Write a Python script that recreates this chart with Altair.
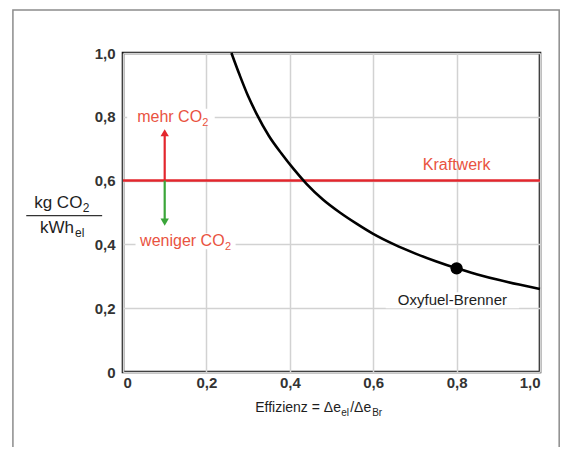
import altair as alt
import pandas as pd

# --- data ---
curve_x = [0.26, 0.28, 0.30, 0.32, 0.35, 0.38, 0.41, 0.44, 0.48, 0.52, 0.56, 0.60,
           0.65, 0.70, 0.75, 0.80, 0.85, 0.90, 0.95, 1.00]
curve_y = [1.00, 0.93, 0.865, 0.81, 0.74, 0.685, 0.635, 0.59, 0.54, 0.50, 0.465, 0.433,
           0.40, 0.372, 0.347, 0.325, 0.306, 0.289, 0.274, 0.26]
kraftwerk_level = 0.6
marker_x = [0.8]
marker_y = [0.325]
arrow_x = 0.10
arrow_up_tip = 0.765
arrow_down_tip = 0.455

x_ticks = [0, 0.2, 0.4, 0.6, 0.8, 1.0]
y_ticks = [0, 0.1, 0.2, 0.3, 0.4, 0.5, 0.6, 0.7, 0.8, 0.9, 1.0]

FONT = "Liberation Sans"
RED = "#e3262d"
RED_TEXT = "#e9533f"
GREEN = "#3aa539"
DARK = "#1e1e1e"

# white boxes that interrupt gridlines behind labels
box_x = [0.01, 0.03, 0.63]
box_x2 = [0.22, 0.27, 0.95]
box_y = [0.775, 0.385, 0.20]
box_y2 = [0.825, 0.435, 0.25]

xs = alt.Scale(domain=[0, 1], nice=False)
ys = alt.Scale(domain=[0, 1], nice=False)

curve_df = pd.DataFrame({"x": curve_x, "y": curve_y})

label_expr_x = "datum.value == 0 ? '0' : replace(format(datum.value, '.1f'), '.', ',')"
label_expr_y = ("round(datum.value*10) % 2 == 1 ? '' : "
                "(datum.value == 0 ? '0' : replace(format(datum.value, '.1f'), '.', ','))")


def txt(x, y, text, size, color, align="left", baseline="alphabetic", dx=0, dy=0):
    return alt.Chart(pd.DataFrame({"x": [x], "y": [y], "t": [text]})).mark_text(
        font=FONT, fontSize=size, align=align, baseline=baseline, color=color, dx=dx, dy=dy
    ).encode(x=alt.X("x:Q", scale=xs), y=alt.Y("y:Q", scale=ys), text="t:N")


# outer picture frame
frame = alt.Chart(pd.DataFrame({"x": [-0.264], "x2": [1.046], "y": [1.135], "y2": [-0.4]})).mark_rect(
    filled=False, stroke="#8c8c8c", strokeWidth=1.5
).encode(
    x=alt.X("x:Q", scale=xs), x2="x2:Q", y=alt.Y("y:Q", scale=ys), y2="y2:Q"
)

# grid / axes layer
axes_layer = alt.Chart(curve_df).mark_line(opacity=0).encode(
    x=alt.X("x:Q", scale=xs, title=None,
            axis=alt.Axis(values=x_ticks, labelExpr=label_expr_x, grid=True, gridColor="#d2d2d2",
                          gridWidth=1.5, domain=False, ticks=False, labelFont=FONT, labelFontSize=15,
                          labelFontWeight="bold", labelColor="#333333", labelPadding=3)),
    y=alt.Y("y:Q", scale=ys, title=None,
            axis=alt.Axis(values=y_ticks, labelExpr=label_expr_y, grid=True, gridColor="#d2d2d2",
                          gridWidth=1.5, domain=False, ticks=False, labelFont=FONT, labelFontSize=15,
                          labelFontWeight="bold", labelColor="#333333", labelPadding=8)),
)

boxes = alt.Chart(pd.DataFrame({"x": box_x, "x2": box_x2, "y": box_y, "y2": box_y2})).mark_rect(
    color="white"
).encode(x=alt.X("x:Q", scale=xs), x2="x2:Q", y=alt.Y("y:Q", scale=ys), y2="y2:Q")

kraftwerk = alt.Chart(pd.DataFrame({"x": [0.0], "x2": [1.0], "y": [kraftwerk_level]})).mark_rule(
    color=RED, strokeWidth=2.5
).encode(x=alt.X("x:Q", scale=xs), x2="x2:Q", y=alt.Y("y:Q", scale=ys))

arrow_df = pd.DataFrame({
    "x": [arrow_x, arrow_x],
    "y": [kraftwerk_level, kraftwerk_level],
    "y2": [arrow_up_tip - 0.02, arrow_down_tip + 0.02],
    "c": [RED, GREEN],
})
arrow_shafts = alt.Chart(arrow_df).mark_rule(strokeWidth=2.2).encode(
    x=alt.X("x:Q", scale=xs), y=alt.Y("y:Q", scale=ys), y2="y2:Q",
    color=alt.Color("c:N", scale=None)
)
head_df = pd.DataFrame({
    "x": [arrow_x, arrow_x],
    "y": [arrow_up_tip - 0.015, arrow_down_tip + 0.015],
    "shape": ["triangle-up", "triangle-down"],
    "c": [RED, GREEN],
})
arrow_heads = alt.Chart(head_df).mark_point(filled=True, size=70, opacity=1).encode(
    x=alt.X("x:Q", scale=xs), y=alt.Y("y:Q", scale=ys),
    shape=alt.Shape("shape:N", scale=None),
    color=alt.Color("c:N", scale=None)
)

curve = alt.Chart(curve_df).mark_line(color="black", strokeWidth=2.6, interpolate="monotone").encode(
    x=alt.X("x:Q", scale=xs), y=alt.Y("y:Q", scale=ys)
)

marker = alt.Chart(pd.DataFrame({"x": marker_x, "y": marker_y})).mark_circle(
    color="black", size=150, opacity=1
).encode(x=alt.X("x:Q", scale=xs), y=alt.Y("y:Q", scale=ys))

# annotations
mehr = txt(0.034, 0.785, "mehr CO", 16, RED_TEXT) + txt(0.034, 0.785, "2", 11, RED_TEXT, dx=65, dy=4)
weniger = txt(0.041, 0.395, "weniger CO", 16, RED_TEXT) + txt(0.041, 0.395, "2", 11, RED_TEXT, dx=85, dy=4)
kraft_lbl = txt(0.80, 0.65, "Kraftwerk", 16, RED_TEXT, align="center", baseline="middle")
oxy_lbl = txt(0.79, 0.225, "Oxyfuel-Brenner", 15, DARK, align="center", baseline="middle")

# y-axis title as a fraction
ytitle = (txt(-0.213, 0.514, "kg CO", 17, DARK) + txt(-0.213, 0.514, "2", 12, DARK, dx=48.5, dy=4)
          + txt(-0.1175, 0.437, "kWh", 17, DARK, align="right")
          + txt(-0.1175, 0.437, "el", 12, DARK, dx=1, dy=4))
ytitle_rule = alt.Chart(pd.DataFrame({"x": [-0.232], "x2": [-0.05], "y": [0.49]})).mark_rule(
    color="#333333", strokeWidth=1.3
).encode(x=alt.X("x:Q", scale=xs), x2="x2:Q", y=alt.Y("y:Q", scale=ys))

# x-axis title with subscripts
xt_x = 0.317
xt_y = -0.125
xtitle = (txt(xt_x, xt_y, "Effizienz = Δe", 14, DARK) + txt(xt_x, xt_y, "el", 10, DARK, dx=86, dy=4)
          + txt(xt_x, xt_y, "/Δe", 14, DARK, dx=95) + txt(xt_x, xt_y, "Br", 10, DARK, dx=117, dy=4))

chart = alt.layer(
    frame, axes_layer, boxes, kraftwerk, arrow_shafts, arrow_heads, curve, marker,
    mehr, weniger, kraft_lbl, oxy_lbl, ytitle, ytitle_rule, xtitle
).properties(
    width=417, height=319,
    autosize=alt.AutoSizeParams(type="none"),
    padding={"left": 115, "top": 45, "right": 20, "bottom": 75},
    background="white",
).configure_view(stroke="#111111", strokeWidth=2.6)

chart.save("out.html", embed_options={"renderer": "svg", "actions": False})
